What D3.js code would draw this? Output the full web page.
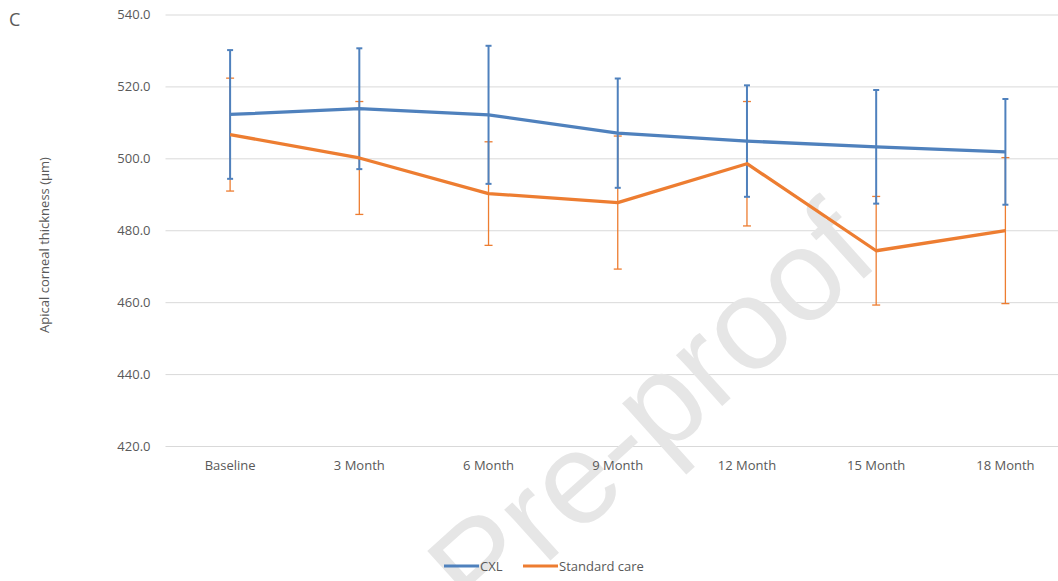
<!DOCTYPE html>
<html>
<head>
<meta charset="utf-8">
<script src="https://cdn.jsdelivr.net/npm/d3@7"></script>
<style>
  html, body { margin: 0; padding: 0; background: #fff; }
  svg { display: block; }
</style>
</head>
<body>
<svg id="chart" width="1058" height="581"></svg>
<script>
// Time points of follow-up
const categories = ["Baseline", "3 Month", "6 Month", "9 Month", "12 Month", "15 Month", "18 Month"];

// Mean apical corneal thickness (µm) and standard deviation per group
const cxlMean = [512.2, 513.8, 512.1, 507.0, 504.8, 503.2, 501.8];
const cxlSD   = [17.9, 16.8, 19.2, 15.2, 15.5, 15.8, 14.7];
const scMean  = [506.6, 500.1, 490.2, 487.7, 498.5, 474.3, 479.9];
const scSD    = [15.7, 15.7, 14.4, 18.5, 17.3, 15.1, 20.3];

const yTicks = [420, 440, 460, 480, 500, 520, 540];
const seriesNames = ["CXL", "Standard care"];

const BLUE = "#4f81bd";
const ORANGE = "#ed7d31";
const TEXT = "#595959";
const FONT = "'Open Sans', 'Noto Sans', sans-serif";

const svg = d3.select("#chart");

const x = d3.scaleBand().domain(categories).range([165.5, 1070]);
const cx = c => x(c) + x.bandwidth() / 2;
const y = d3.scaleLinear().domain([420, 540]).range([446, 14.5]);

// Horizontal gridlines and value labels
const yAxis = d3.axisLeft(y).tickValues(yTicks).tickFormat(d3.format(".1f")).tickSize(-(1070 - 165.5)).tickPadding(15);
const gy = svg.append("g").attr("transform", "translate(165.5,0)").call(yAxis);
gy.select(".domain").remove();
gy.selectAll(".tick line").attr("stroke", "#d9d9d9").attr("stroke-width", 1);
gy.selectAll(".tick text").attr("fill", TEXT).style("font-family", FONT).style("font-size", "13px");

// Journal watermark
svg.append("text")
  .attr("transform", "translate(882,262) rotate(-42)")
  .attr("text-anchor", "end")
  .attr("fill", "#e6e6e6")
  .style("font-family", "'Liberation Sans', Arial, sans-serif")
  .style("font-size", "130px")
  .text("Journal Pre-proof");

// Category labels
const xAxis = d3.axisBottom(x).tickSize(0).tickPadding(15);
const gx = svg.append("g").attr("transform", "translate(0,446)").call(xAxis);
gx.select(".domain").remove();
gx.selectAll(".tick text").attr("fill", TEXT).style("font-family", FONT).style("font-size", "13px");

// Panel letter
svg.append("text").attr("x", 9).attr("y", 26).text("C")
  .attr("fill", TEXT).style("font-family", FONT).style("font-size", "18px");

// Y axis title
svg.append("text")
  .attr("transform", "translate(49,245) rotate(-90)")
  .attr("text-anchor", "middle")
  .attr("fill", TEXT).style("font-family", FONT).style("font-size", "13px")
  .text("Apical corneal thickness (\u03bcm)");

function errorBars(mean, sd, color, width, cap) {
  const g = svg.append("g").attr("stroke", color).attr("stroke-width", width).attr("fill", "none");
  categories.forEach((c, i) => {
    const xc = cx(c), top = y(mean[i] + sd[i]), bot = y(mean[i] - sd[i]);
    g.append("line").attr("x1", xc).attr("x2", xc).attr("y1", top).attr("y2", bot);
    g.append("line").attr("x1", xc - cap / 2).attr("x2", xc + cap / 2).attr("y1", top).attr("y2", top);
    g.append("line").attr("x1", xc - cap / 2).attr("x2", xc + cap / 2).attr("y1", bot).attr("y2", bot);
  });
}

const line = d3.line().x((d, i) => cx(categories[i])).y(d => y(d));

errorBars(scMean, scSD, ORANGE, 1.3, 8);
errorBars(cxlMean, cxlSD, BLUE, 2, 6);

svg.append("path").datum(cxlMean).attr("d", line)
  .attr("fill", "none").attr("stroke", BLUE).attr("stroke-width", 3.3).attr("stroke-linejoin", "round");
svg.append("path").datum(scMean).attr("d", line)
  .attr("fill", "none").attr("stroke", ORANGE).attr("stroke-width", 3.3).attr("stroke-linejoin", "round");

// Legend
const legend = svg.append("g").attr("transform", "translate(444,566)");
const legendColors = [BLUE, ORANGE];
const legendOffsets = [0, 79];
seriesNames.forEach((name, i) => {
  const g = legend.append("g").attr("transform", `translate(${legendOffsets[i]},0)`);
  g.append("line").attr("x1", 0).attr("x2", 35).attr("y1", 0).attr("y2", 0)
    .attr("stroke", legendColors[i]).attr("stroke-width", 3);
  g.append("text").attr("x", 36).attr("y", 4.5).text(name)
    .attr("fill", TEXT).style("font-family", FONT).style("font-size", "13px");
});
</script>
</body>
</html>
